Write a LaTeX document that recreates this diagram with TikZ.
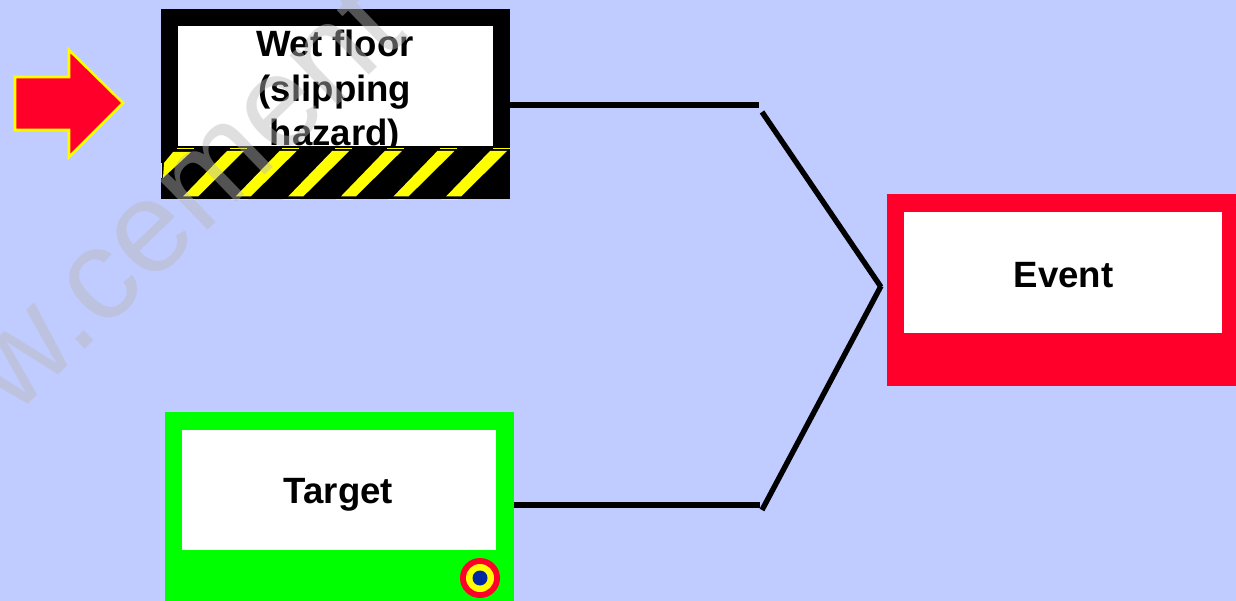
\documentclass[tikz,border=0pt]{standalone}
\usepackage{fontspec}
\setmainfont{Liberation Sans}
\usetikzlibrary{calc}
\definecolor{bgblue}{RGB}{192,204,255}
\definecolor{evred}{RGB}{255,0,43}
\definecolor{tgreen}{RGB}{0,255,0}
\definecolor{hazy}{RGB}{255,255,0}
\definecolor{dotblue}{RGB}{0,40,160}
\tikzset{
  x=1pt,y=-1pt,
  lbl/.style={font=\fontsize{36.6}{44.5}\selectfont\bfseries,align=center,text=black,inner sep=0pt},
  conn/.style={draw=black,line width=5.4pt},
  stripe/.style={fill=hazy,draw=none},
}
\begin{document}
\begin{tikzpicture}[line join=miter]
\useasboundingbox (0,0) rectangle (1236,601);
\fill[bgblue] (0,0) rectangle (1236,601);
% arrow
\draw[fill=evred,draw=hazy,line width=2.6pt,miter limit=10]
  (15,77) -- (69,77) -- (69,50) -- (123,103) -- (69,157) -- (69,130) -- (15,130) -- cycle;
% hazard box
\fill[black] (161,9) rectangle (510,199);
\fill[white] (178,26) rectangle (493,146);
\node[lbl] (wet) at (335,92) {Wet floor\\(slipping\\hazard)};
\fill[black] (161,146) rectangle (510,199);
\fill[stripe] (164,163) -- (173,152) -- (191,152) -- (163,178) -- cycle;
\fill[hazy] (161,163) rectangle (162,178);
\foreach \i in {0,...,5}{
  \pgfmathsetmacro{\dx}{\i*52.6}
  \fill[stripe] ({183+\dx},196.5) -- ({227+\dx},151) -- ({244+\dx},151) -- ({198+\dx},196.5) -- cycle;
  \fill[hazy] ({178+\dx},199) rectangle ({195+\dx},200.5);
}
\foreach \i in {0,...,6}{
  \pgfmathsetmacro{\dx}{\i*52.6}
  \fill[hazy] ({177+\dx},147.8) rectangle ({194+\dx},149);
}
% target
\fill[tgreen] (165,412) rectangle (514,601);
\fill[white] (182,430) rectangle (496,550);
\node[lbl] (target) at (338.5,495) {Target};
\fill[evred] (480,578) circle (20);
\fill[hazy] (480,578) circle (14);
\fill[dotblue] (480,578) circle (7.5);
% event
\fill[evred] (887,194) rectangle (1236,386);
\fill[white] (904,212) rectangle (1222,333);
\node[lbl] (event) at (1063.5,275) {Event};
% connectors
\coordinate (a1) at (510,105);
\coordinate (a2) at (759,105);
\coordinate (b1) at (762,112);
\coordinate (b2) at (881,287);
\coordinate (c1) at (514,505);
\coordinate (c2) at (760,505);
\coordinate (d1) at (762,510);
\coordinate (d2) at (881,286);
\draw[conn] (a1) -- (a2);
\draw[conn] (b1) -- (b2);
\draw[conn] (c1) -- (c2);
\draw[conn] (d1) -- (d2);
% watermark
\node[font=\fontsize{130}{130}\selectfont,text=black!27,opacity=0.45,rotate=44,anchor=base west,inner sep=0pt] (wm) at (-121,548) {www.cement};
\end{tikzpicture}
\end{document}
